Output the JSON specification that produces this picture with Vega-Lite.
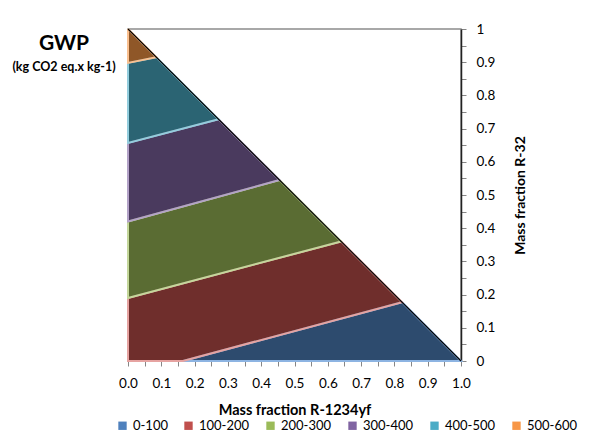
{
  "$schema": "https://vega.github.io/schema/vega-lite/v6.json",
  "autosize": {"type": "none"},
  "width": 333,
  "height": 332,
  "padding": {"left": 128, "top": 29, "right": 137, "bottom": 82},
  "background": "white",
  "config": {
    "font": "Lato",
    "view": {"stroke": "#8c8c8c", "strokeWidth": 1.5},
    "axis": {"grid": false, "labelFont": "Lato", "titleFont": "Lato", "labelColor": "#000", "titleColor": "#000"}
  },
  "title": {
    "text": "GWP",
    "subtitle": "(kg CO2 eq.x kg-1)",
    "anchor": "start",
    "align": "center",
    "frame": "group",
    "dx": -64,
    "dy": 51,
    "offset": 0,
    "fontSize": 21,
    "fontWeight": "bold",
    "color": "#000",
    "subtitleFontSize": 12.5,
    "subtitleFontWeight": "bold",
    "subtitleColor": "#000",
    "subtitlePadding": 7
  },
  "datasets": {
    "poly": [
      {"band": "0-100", "v": 1, "x": 0.165, "y": 0},
      {"band": "0-100", "v": 2, "x": 0.823, "y": 0.177},
      {"band": "0-100", "v": 3, "x": 1.0, "y": 0},
      {"band": "0-100", "v": 4, "x": 0.165, "y": 0},
      {"band": "100-200", "v": 1, "x": 0, "y": 0.19},
      {"band": "100-200", "v": 2, "x": 0.64, "y": 0.36},
      {"band": "100-200", "v": 3, "x": 0.823, "y": 0.177},
      {"band": "100-200", "v": 4, "x": 0.165, "y": 0},
      {"band": "100-200", "v": 5, "x": 0, "y": 0},
      {"band": "100-200", "v": 6, "x": 0, "y": 0.19},
      {"band": "200-300", "v": 1, "x": 0, "y": 0.42},
      {"band": "200-300", "v": 2, "x": 0.455, "y": 0.545},
      {"band": "200-300", "v": 3, "x": 0.64, "y": 0.36},
      {"band": "200-300", "v": 4, "x": 0, "y": 0.19},
      {"band": "200-300", "v": 5, "x": 0, "y": 0.42},
      {"band": "300-400", "v": 1, "x": 0, "y": 0.657},
      {"band": "300-400", "v": 2, "x": 0.272, "y": 0.728},
      {"band": "300-400", "v": 3, "x": 0.455, "y": 0.545},
      {"band": "300-400", "v": 4, "x": 0, "y": 0.42},
      {"band": "300-400", "v": 5, "x": 0, "y": 0.657},
      {"band": "400-500", "v": 1, "x": 0, "y": 0.898},
      {"band": "400-500", "v": 2, "x": 0.085, "y": 0.915},
      {"band": "400-500", "v": 3, "x": 0.272, "y": 0.728},
      {"band": "400-500", "v": 4, "x": 0, "y": 0.657},
      {"band": "400-500", "v": 5, "x": 0, "y": 0.898},
      {"band": "500-600", "v": 1, "x": 0, "y": 1.0},
      {"band": "500-600", "v": 2, "x": 0.085, "y": 0.915},
      {"band": "500-600", "v": 3, "x": 0, "y": 0.898},
      {"band": "500-600", "v": 4, "x": 0, "y": 1.0}
    ],
    "edge": [
      {"x": 0, "y": 1, "x2": 1, "y2": 0}
    ]
  },
  "encoding": {
    "x": {"field": "x", "type": "quantitative", "scale": {"domain": [0, 1], "nice": false, "zero": false},
      "axis": {
        "orient": "bottom",
        "title": "Mass fraction R-1234yf",
        "titleFontSize": 14.5,
        "titleFontWeight": "bold",
        "titleY": 49,
        "titleBaseline": "middle",
        "values": [0, 0.05, 0.1, 0.15, 0.2, 0.25, 0.3, 0.35, 0.4, 0.45, 0.5, 0.55, 0.6, 0.65, 0.7, 0.75, 0.8, 0.85, 0.9, 0.95, 1.0],
        "labelExpr": "round(datum.value*20)%2==0 ? format(datum.value,'.1f') : ''",
        "labelOverlap": false,
        "labelFontSize": 13.5,
        "labelPadding": 10,
        "tickSize": 5,
        "tickColor": "#868686",
        "domainColor": "#868686",
        "labelFlush": false
      }},
    "y": {"field": "y", "type": "quantitative", "scale": {"domain": [0, 1], "nice": false, "zero": false},
      "axis": {
        "orient": "right",
        "title": "Mass fraction R-32",
        "titleAngle": -90,
        "titleFontSize": 14,
        "titleFontWeight": "bold",
        "titleX": 59,
        "titleY": 166,
        "titleBaseline": "middle",
        "titleAlign": "center",
        "values": [0, 0.05, 0.1, 0.15, 0.2, 0.25, 0.3, 0.35, 0.4, 0.45, 0.5, 0.55, 0.6, 0.65, 0.7, 0.75, 0.8, 0.85, 0.9, 0.95, 1.0],
        "labelExpr": "round(datum.value*20)%2==0 ? format(datum.value,'.1~f') : ''",
        "labelOverlap": false,
        "labelFontSize": 13.5,
        "labelPadding": 10,
        "tickSize": 5,
        "tickColor": "#868686",
        "domainColor": "#222222",
        "domainWidth": 1.5,
        "labelFlush": false
      }}
  },
  "layer": [
    {
      "data": {"name": "poly"},
      "mark": {"type": "line", "strokeWidth": 0, "interpolate": "linear"},
      "encoding": {
        "order": {"field": "v", "type": "quantitative"},
        "detail": {"field": "band", "type": "nominal"},
        "fill": {"field": "band", "type": "nominal",
          "scale": {"domain": ["0-100", "100-200", "200-300", "300-400", "400-500", "500-600"],
                    "range": ["#4F81BD", "#C0504D", "#9BBB59", "#8064A2", "#4BACC6", "#F79646"]},
          "legend": {
            "orient": "none",
            "direction": "horizontal",
            "columns": 6,
            "legendX": -12,
            "legendY": 390,
            "title": null,
            "symbolType": "square",
            "symbolSize": 70,
            "symbolStrokeWidth": 0,
            "labelFontSize": 13,
            "labelFont": "Lato",
            "labelColor": "#000",
            "labelOffset": 4,
            "columnPadding": 14
          }}
      }
    },
    {
      "data": {"name": "poly"},
      "mark": {"type": "line", "fill": "#000000", "fillOpacity": 0.42, "strokeWidth": 2, "strokeOpacity": 1, "interpolate": "linear"},
      "encoding": {
        "order": {"field": "v", "type": "quantitative"},
        "detail": {"field": "band", "type": "nominal"},
        "stroke": {"field": "band", "type": "nominal",
          "scale": {"domain": ["0-100", "100-200", "200-300", "300-400", "400-500", "500-600"],
                    "range": ["#8DB4E2", "#E6A3A1", "#C4D79B", "#B3A2C7", "#93CDDD", "#FAC090"]},
          "legend": null}
      }
    },
    {
      "data": {"name": "edge"},
      "mark": {"type": "rule", "color": "#000000", "strokeWidth": 1.2},
      "encoding": {
        "x2": {"field": "x2"},
        "y2": {"field": "y2"}
      }
    }
  ]
}
